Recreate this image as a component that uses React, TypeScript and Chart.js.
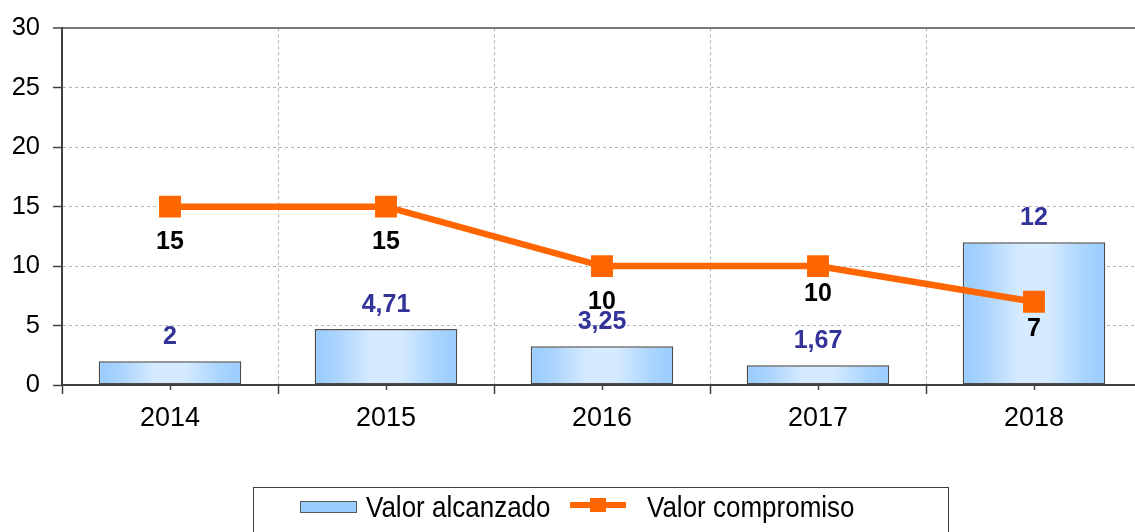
import { useEffect, useRef } from "react";
import { Chart, registerables } from "chart.js";

Chart.register(...registerables);

const years = ["2014", "2015", "2016", "2017", "2018"];
const valorAlcanzado = [2, 4.71, 3.25, 1.67, 12];
const valorCompromiso = [15, 15, 10, 10, 7];
const yTickValues = [0, 5, 10, 15, 20, 25, 30];
const seriesNames = ["Valor alcanzado", "Valor compromiso"];

const lineLabelOffsets = [35, 35, 36, 28, 27];
const W = 1160;
const H = 560;
const FONT = '"Liberation Sans", Arial, sans-serif';
const ORANGE = "#FF6600";

const fmt = (v: number) => String(v).replace(".", ",");

function barGradient(ctx: CanvasRenderingContext2D, x0: number, x1: number) {
  const g = ctx.createLinearGradient(x0, 0, x1, 0);
  g.addColorStop(0, "#99CCFF");
  g.addColorStop(0.15, "#A9D4FF");
  g.addColorStop(0.4, "#D6EBFF");
  g.addColorStop(0.6, "#D6EBFF");
  g.addColorStop(0.85, "#A9D4FF");
  g.addColorStop(1, "#99CCFF");
  return g;
}

const labelPlugin = {
  id: "valueLabels",
  afterDatasetsDraw(chart: any) {
    const ctx = chart.ctx as CanvasRenderingContext2D;
    const lineMeta = chart.getDatasetMeta(0);
    const barMeta = chart.getDatasetMeta(1);
    ctx.save();
    ctx.font = `bold 25px ${FONT}`;
    ctx.textAlign = "center";
    ctx.textBaseline = "middle";
    ctx.fillStyle = "#333399";
    barMeta.data.forEach((el: any, i: number) => {
      ctx.fillText(fmt(valorAlcanzado[i]), el.x, el.y - 24);
    });
    ctx.fillStyle = "#000000";
    lineMeta.data.forEach((el: any, i: number) => {
      ctx.fillText(fmt(valorCompromiso[i]), el.x, el.y + lineLabelOffsets[i]);
    });
    ctx.restore();
  },
  afterDraw(chart: any) {
    const ctx = chart.ctx as CanvasRenderingContext2D;
    const xs = chart.scales.x;
    const bottom = chart.chartArea.bottom;
    ctx.save();
    // small center tick marks on the x axis
    ctx.strokeStyle = "#404040";
    ctx.lineWidth = 1.5;
    years.forEach((_, i) => {
      const x = Math.round(xs.getPixelForValue(i)) + 0.5;
      ctx.beginPath();
      ctx.moveTo(x, bottom);
      ctx.lineTo(x, bottom + 5);
      ctx.stroke();
    });

    // legend box
    ctx.lineWidth = 1;
    ctx.strokeStyle = "#404040";
    ctx.strokeRect(253.5, 487.5, 695, 90);

    // bar swatch
    ctx.fillStyle = "#99CCFF";
    ctx.fillRect(300, 501, 56, 11);
    ctx.strokeStyle = "#595959";
    ctx.strokeRect(300.5, 501.5, 56, 11);

    // line swatch
    ctx.strokeStyle = ORANGE;
    ctx.lineWidth = 6;
    ctx.beginPath();
    ctx.moveTo(570, 505);
    ctx.lineTo(626, 505);
    ctx.stroke();
    ctx.fillStyle = ORANGE;
    ctx.fillRect(590, 498, 16, 14);

    ctx.fillStyle = "#000000";
    ctx.font = `26px ${FONT}`;
    ctx.textAlign = "left";
    ctx.textBaseline = "alphabetic";
    ctx.save();
    ctx.translate(0, 517);
    ctx.scale(1, 1.12);
    ctx.fillText(seriesNames[0], 366, 0);
    ctx.fillText(seriesNames[1], 647, 0);
    ctx.restore();
    ctx.restore();
  },
};

export default function App() {
  const ref = useRef<HTMLCanvasElement | null>(null);

  useEffect(() => {
    if (!ref.current) return;
    const chart = new Chart(ref.current, {
      type: "bar",
      data: {
        labels: years,
        datasets: [
          {
            type: "line",
            label: seriesNames[1],
            data: valorCompromiso,
            borderColor: ORANGE,
            backgroundColor: ORANGE,
            borderWidth: 6.5,
            pointStyle: "rect",
            pointRadius: 15.5,
            pointBorderWidth: 0,
            pointBackgroundColor: ORANGE,
            tension: 0,
            order: 0,
          } as any,
          {
            type: "bar",
            label: seriesNames[0],
            data: valorAlcanzado,
            backgroundColor: (c: any) => {
              const chart = c.chart;
              const xs = chart.scales?.x;
              if (!chart.chartArea || !xs || c.dataIndex === undefined) return "#99CCFF";
              const cx = xs.getPixelForValue(c.dataIndex);
              const w = (xs.width / years.length) * 0.66;
              return barGradient(chart.ctx, cx - w / 2, cx + w / 2);
            },
            borderColor: "#4d4d4d",
            borderWidth: 1.5,
            borderSkipped: false,
            barPercentage: 0.66,
            categoryPercentage: 1,
            order: 1,
          } as any,
        ],
      },
      options: {
        responsive: false,
        animation: false,
        devicePixelRatio: 1,
        layout: { padding: { top: 25, left: 0, right: W - 1142, bottom: 0 } },
        plugins: {
          legend: { display: false },
          tooltip: { enabled: false },
        },
        scales: {
          x: {
            offset: true,
            grid: {
              offset: true,
              color: (c: any) => (c.index === 0 ? "rgba(0,0,0,0)" : "#b4b4b4"),
              lineWidth: 1,
              tickLength: 9,
              tickColor: "#404040",
              tickWidth: 1.5,
            },
            border: { color: "#404040", width: 2, dash: [3, 3] },
            ticks: {
              color: "#000000",
              font: { size: 27, family: FONT },
              padding: 8,
            },
            afterFit: (s: any) => {
              s.height = H - 385;
            },
          },
          y: {
            min: 0,
            max: 30,
            afterBuildTicks: (s: any) => {
              s.ticks = yTickValues.map((v) => ({ value: v }));
            },
            ticks: {
              color: "#000000",
              font: { size: 25.5, family: FONT },
              padding: 13,
            },
            grid: {
              color: (c: any) =>
                c.tick && c.tick.value === 0
                  ? "rgba(0,0,0,0)"
                  : c.tick && c.tick.value === 30
                  ? "#7a7a7a"
                  : "#b4b4b4",
              lineWidth: (c: any) => (c.tick && c.tick.value === 30 ? 2 : 1),
              tickLength: 9,
              tickColor: "#404040",
              tickWidth: 1.5,
            },
            border: {
              color: "#404040",
              width: 2,
              dash: (c: any) => (c.tick && c.tick.value === 30 ? [] : [3, 3]),
            },
            afterFit: (s: any) => {
              s.width = 62;
            },
          },
        },
      } as any,
      plugins: [labelPlugin],
    });
    return () => chart.destroy();
  }, []);

  return (
    <div
      style={{
        position: "fixed",
        left: 0,
        top: 0,
        width: 1135,
        height: 532,
        overflow: "hidden",
        background: "#ffffff",
      }}
    >
      <canvas
        ref={ref}
        width={W}
        height={H}
        style={{ position: "absolute", left: 0, top: 0, display: "block", width: W, height: H }}
      />
    </div>
  );
}
